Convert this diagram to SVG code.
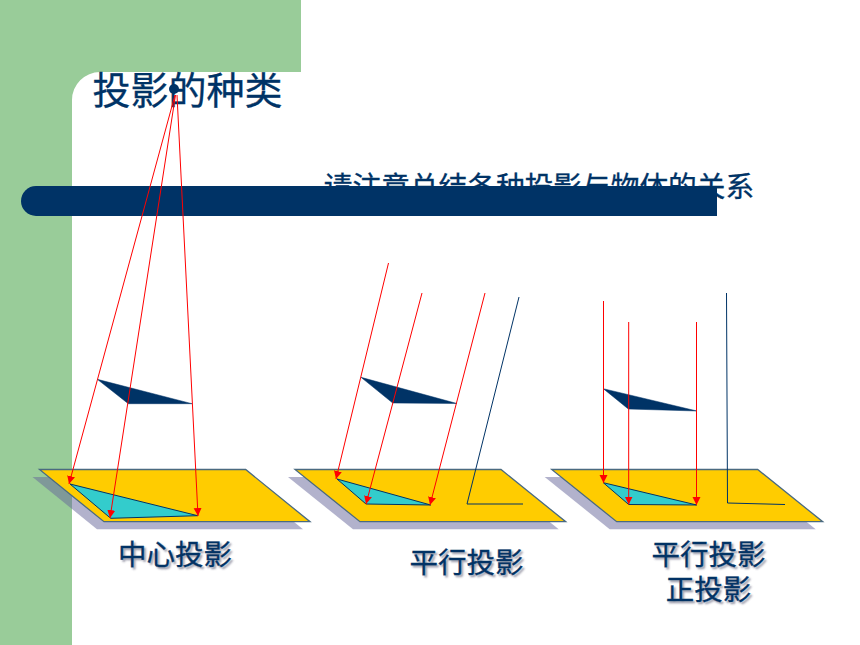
<svg xmlns="http://www.w3.org/2000/svg" width="860" height="645" viewBox="0 0 860 645">
<style>
text{font-family:"Noto Sans CJK SC","Liberation Serif",serif;fill:#003366;stroke:#003366;stroke-width:.3;text-anchor:middle}
.lab{font-size:28.5px;text-shadow:2px 2px 2px rgba(60,60,90,.45)}
.sh{fill:#666699;fill-opacity:.5}
.pl{fill:#ffcc00;stroke:#4a6a80;stroke-width:1.3}
.cy{fill:#33cccc;stroke:#003366;stroke-width:1}
.dk{fill:#003366;stroke:#003366;stroke-width:.5}
.r{stroke:#ff0000;stroke-width:1;fill:none;marker-end:url(#a)}
.b{stroke:#003366;stroke-width:1;fill:none}
</style>
<defs><marker id="a" markerUnits="userSpaceOnUse" markerWidth="10" markerHeight="10" refX="8" refY="4" orient="auto"><path d="M0 0L8 4L0 8Z" fill="#ff0000"/></marker></defs>
<rect width="860" height="645" fill="#ffffff"/>
<g id="background">
<path d="M0 0H301V72H100A28 28 0 0 0 72 100V645H0Z" fill="#99cc99"/>
</g>
<g id="title"><text x="187.500" y="103.500" font-size="38">投影的种类</text></g>
<g id="subtitle"><text x="539" y="197" font-size="28.7">请注意总结各种投影与物体的关系</text></g>
<g id="bar">
<path d="M36 186H717V216H36A15 15 0 0 1 36 186Z" fill="#003366"/>
<circle cx="174" cy="89" r="5" fill="#003366"/>
</g>
<g id="plane-central">
<path class="sh" d="M32.500 477H238.700L303 529.200H97Z"/>
<path class="pl" d="M39.500 469.500H245.700L310 521.700H104Z"/>
<path class="cy" d="M70 484L197.700 515.700L110.700 518.300Z"/>
<path class="dk" d="M97.300 379.300L192 403.700H128.300Z"/>
</g>
<g id="plane-oblique">
<path class="sh" d="M288 477H494L558.700 529.200H353Z"/>
<path class="pl" d="M295 469.500H501L565.700 521.700H360Z"/>
<path class="cy" d="M337 479L430.700 505L366 504Z"/>
<path class="dk" d="M361 377.300L457 403.500L392.700 403Z"/>
</g>
<g id="plane-orthographic">
<path class="sh" d="M544.700 477H750.700L815.700 529.200H609.700Z"/>
<path class="pl" d="M551.700 469.500H757.700L822.700 521.700H616.700Z"/>
<path class="cy" d="M603.300 482.700L696.700 505L628.700 504.500Z"/>
<path class="dk" d="M603.300 388.700L697 411L628.300 409Z"/>
</g>
<g id="connectors">
<line class="r" x1="175" y1="95" x2="69" y2="484"/>
<line class="r" x1="175.500" y1="95" x2="110" y2="518"/>
<line class="r" x1="177" y1="95" x2="198" y2="516"/>
<line class="r" x1="388.500" y1="263" x2="336" y2="479"/>
<line class="r" x1="422" y1="293" x2="366" y2="504"/>
<line class="r" x1="485" y1="293" x2="430" y2="505"/>
<path class="b" d="M519 297L467 504H523"/>
<line class="r" x1="603.500" y1="301" x2="603.500" y2="483"/>
<line class="r" x1="628.700" y1="322" x2="628.700" y2="504.500"/>
<line class="r" x1="696.500" y1="322" x2="696.500" y2="505"/>
<path class="b" d="M726.500 293L727.500 503L785 504.500"/>
</g>
<g id="label-central"><text class="lab" x="175" y="565">中心投影</text></g>
<g id="label-oblique"><text class="lab" x="466.500" y="573">平行投影</text></g>
<g id="label-orthographic"><text class="lab" x="708.500" y="565">平行投影</text><text class="lab" x="708.500" y="600">正投影</text></g>
</svg>
